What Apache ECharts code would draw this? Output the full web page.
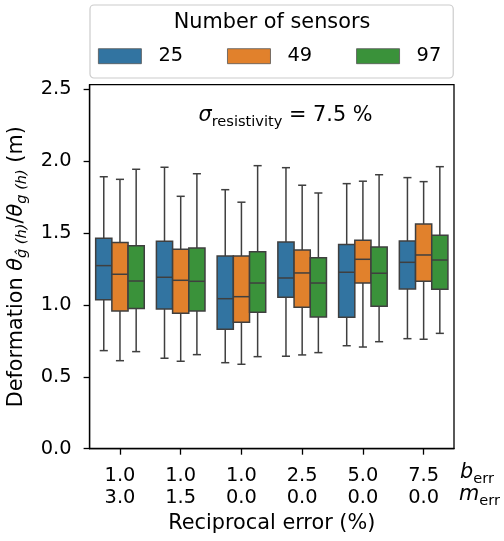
<!DOCTYPE html>
<html>
<head>
<meta charset="utf-8">
<script src="https://cdn.jsdelivr.net/npm/echarts@6/dist/echarts.min.js"></script>
<style>
  html, body { margin: 0; padding: 0; background: #ffffff; }
  #chart { width: 504px; height: 541px; }
</style>
</head>
<body>
<div id="chart"></div>
<script>
// Reciprocal error settings per group (bias and multiplicative part, %)
const bErr = ['1.0', '1.0', '1.0', '2.5', '5.0', '7.5'];
const mErr = ['3.0', '1.5', '0.0', '0.0', '0.0', '0.0'];
const sensorCounts = ['25', '49', '97'];
const yTicks = [0.0, 0.5, 1.0, 1.5, 2.0, 2.5];

// Box statistics per group: [lower whisker, Q1, median, Q3, upper whisker]
const boxes25 = [
  [0.682, 1.036, 1.273, 1.463, 1.891],
  [0.629, 0.971, 1.192, 1.442, 1.957],
  [0.598, 0.830, 1.043, 1.340, 1.801],
  [0.643, 1.053, 1.187, 1.437, 1.954],
  [0.716, 0.914, 1.227, 1.419, 1.843],
  [0.765, 1.111, 1.296, 1.444, 1.885]
];
const boxes49 = [
  [0.612, 0.958, 1.213, 1.433, 1.873],
  [0.608, 0.942, 1.171, 1.387, 1.755],
  [0.587, 0.879, 1.057, 1.340, 1.714],
  [0.652, 0.983, 1.222, 1.382, 1.832],
  [0.707, 1.152, 1.317, 1.449, 1.860],
  [0.761, 1.164, 1.347, 1.563, 1.857]
];
const boxes97 = [
  [0.675, 0.974, 1.166, 1.412, 1.943],
  [0.654, 0.958, 1.164, 1.396, 1.912],
  [0.640, 0.949, 1.152, 1.370, 1.968],
  [0.668, 0.916, 1.152, 1.328, 1.778],
  [0.744, 0.990, 1.220, 1.403, 1.905],
  [0.802, 1.108, 1.312, 1.484, 1.961]
];

const palette = ['#3274a1', '#e1812c', '#3a923a'];
const edgeColor = '#3f3f3f';
const FONT = '"DejaVu Sans", "Liberation Sans", sans-serif';
const categories = bErr.map((b, i) => b + '\n' + mErr[i]);
const allBoxes = [boxes25, boxes49, boxes97];

// Draws one dodged box with whiskers and half-width caps
function renderBox(params, api) {
  const cat = api.value(0);
  const band = api.size([1, 0])[0];
  const w = band * 0.8 / 3;
  const cx = api.coord([cat, 0])[0] + (params.seriesIndex - 1) * w;
  const py = (v) => api.coord([cat, v])[1];
  const lo = py(api.value(1)), q1 = py(api.value(2)), md = py(api.value(3)),
        q3 = py(api.value(4)), hi = py(api.value(5));
  const ls = { stroke: edgeColor, lineWidth: 1.5 };
  return {
    type: 'group',
    children: [
      { type: 'line', shape: { x1: cx, y1: q3, x2: cx, y2: hi }, style: ls },
      { type: 'line', shape: { x1: cx, y1: q1, x2: cx, y2: lo }, style: ls },
      { type: 'line', shape: { x1: cx - w / 4, y1: hi, x2: cx + w / 4, y2: hi }, style: ls },
      { type: 'line', shape: { x1: cx - w / 4, y1: lo, x2: cx + w / 4, y2: lo }, style: ls },
      { type: 'rect', shape: { x: cx - w / 2, y: q3, width: w, height: q1 - q3 },
        style: { fill: api.visual('color'), stroke: edgeColor, lineWidth: 1.5 } },
      { type: 'line', shape: { x1: cx - w / 2, y1: md, x2: cx + w / 2, y2: md }, style: ls }
    ]
  };
}

// Math-style rich text: regular, italic, and lowered subscripts
const subRich = {
  n: { fontFamily: FONT, fontSize: 20.8, color: '#000', lineHeight: 26 },
  i: { fontFamily: FONT, fontSize: 20.8, fontStyle: 'italic', color: '#000', lineHeight: 26 },
  s: { fontFamily: FONT, fontSize: 14.6, color: '#000', lineHeight: 14, padding: [12, 0, 0, 0] },
  si: { fontFamily: FONT, fontSize: 14.6, fontStyle: 'italic', color: '#000', lineHeight: 14, padding: [12, 0, 0, 0] }
};

const chart = echarts.init(document.getElementById('chart'), null, { renderer: 'canvas' });
chart.setOption({
  backgroundColor: '#ffffff',
  animation: false,
  color: palette,
  grid: {
    left: 89.6, right: 50, top: 84.7, bottom: 92.3,
    containLabel: false,
    outerBoundsMode: 'none',
    show: true, borderColor: '#000', borderWidth: 1.3, backgroundColor: 'transparent'
  },
  legend: {
    data: sensorCounts,
    left: 90, top: 5,
    orient: 'horizontal',
    icon: 'rect',
    itemWidth: 43, itemHeight: 15, itemGap: 44,
    padding: [41.7, 12, 12.3, 8],
    borderColor: '#cccccc', borderWidth: 1.2, borderRadius: 4,
    backgroundColor: '#ffffff',
    itemStyle: { borderColor: '#555555', borderWidth: 0.8 },
    textStyle: { fontFamily: FONT, fontSize: 19.4, color: '#000', lineHeight: 15, padding: [0, 0, 0, 12] }
  },
  xAxis: {
    type: 'category',
    data: categories,
    boundaryGap: true,
    name: 'Reciprocal error (%)',
    nameLocation: 'middle',
    nameGap: 63,
    nameTextStyle: { fontFamily: FONT, fontSize: 20.8, color: '#000' },
    axisLine: { show: true, lineStyle: { color: '#000', width: 1.3 } },
    axisTick: { show: true, alignWithLabel: true, length: 6, lineStyle: { color: '#000', width: 1.3 } },
    axisLabel: { fontFamily: FONT, fontSize: 19.4, color: '#000', lineHeight: 22, margin: 16, interval: 0 },
    splitLine: { show: false }
  },
  yAxis: {
    type: 'value',
    min: 0, max: 2.531, interval: 0.5,
    name: '{n|Deformation }{i|θ}{si|ĝ (h)}{n|/}{i|θ}{si|g (h)}{n| (m)}',
    nameLocation: 'middle',
    nameRotate: 90,
    nameGap: 55,
    nameTextStyle: { rich: subRich },
    axisLine: { show: true, lineStyle: { color: '#000', width: 1.3 } },
    axisTick: { show: true, length: 6, customValues: yTicks, lineStyle: { color: '#000', width: 1.3 } },
    axisLabel: {
      fontFamily: FONT, fontSize: 19.4, color: '#000', margin: 18,
      customValues: yTicks,
      formatter: (v) => v.toFixed(1)
    },
    splitLine: { show: false }
  },
  graphic: [
    {
      type: 'text', x: 272, y: 23, z: 100,
      style: { text: 'Number of sensors', font: '20.8px ' + FONT, fill: '#000', align: 'center', verticalAlign: 'middle' }
    },
    {
      type: 'text', x: 285.5, y: 116, z: 100,
      style: {
        text: '{i|σ}{s|resistivity}{n| = 7.5 %}',
        align: 'center', verticalAlign: 'middle',
        rich: subRich
      }
    },
    {
      type: 'text', x: 460, y: 473, z: 100,
      style: { text: '{i|b}{s|err}', align: 'left', verticalAlign: 'middle', rich: subRich }
    },
    {
      type: 'text', x: 459, y: 495, z: 100,
      style: { text: '{i|m}{s|err}', align: 'left', verticalAlign: 'middle', rich: subRich }
    }
  ],
  series: sensorCounts.map((name, s) => ({
    name: name,
    type: 'custom',
    renderItem: renderBox,
    itemStyle: { color: palette[s] },
    encode: { x: 0, y: [1, 2, 3, 4, 5] },
    data: allBoxes[s].map((b, i) => [i].concat(b)),
    z: 2
  }))
});
</script>
</body>
</html>
